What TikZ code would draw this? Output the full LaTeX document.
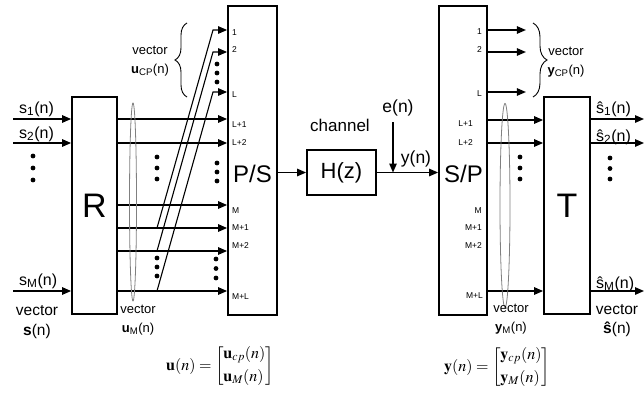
\documentclass[tikz,border=0pt]{standalone}
\usepackage{mathptmx}
\usepackage[no-math]{fontspec}
\setmainfont{Liberation Sans}
\usetikzlibrary{arrows.meta,decorations.pathreplacing}
\tikzset{
  blk/.style={draw,line width=1.8pt,inner sep=0pt},
  arr/.style={line width=1.3pt,-{Triangle[length=9pt,width=7.5pt]}},
  idx/.style={font=\fontsize{8.5}{9}\selectfont,inner sep=0pt},
  io/.style={font=\fontsize{16}{18}\selectfont,inner sep=0pt},
  vec/.style={font=\fontsize{13}{19}\selectfont,inner sep=0pt,align=center},
  lens/.style={gray,line width=0.8pt},
  brc/.style={decorate,line width=0.9pt},
  eqn/.style={font=\fontsize{16}{19}\selectfont,inner sep=0pt}
}
\newcommand\dotcol[3]{\foreach\k in{0,1,2}{\fill(#1,#2+\k*#3)circle(2.4);}}
\begin{document}
\begin{tikzpicture}[x=1pt,y=-1pt]
\useasboundingbox(0,0)rectangle(644,394);
% blocks
\node[blk,minimum width=45pt,minimum height=217pt,font=\fontsize{34}{34}\selectfont](R)at(94.5,205.5){R};
\node[blk,minimum width=49pt,minimum height=309pt](PS)at(252.5,160.5){};
\node[blk,minimum width=69pt,minimum height=45pt,font=\fontsize{22}{22}\selectfont](H)at(341.5,172.5){H(z)};
\node[blk,minimum width=48pt,minimum height=309pt](SP)at(463,160.5){};
\node[blk,minimum width=46pt,minimum height=217pt,font=\fontsize{34}{34}\selectfont](T)at(567,205.5){T};
\node[font=\fontsize{24}{24}\selectfont](PSl)at(252.5,174){P/S};
\node[font=\fontsize{24}{24}\selectfont](SPl)at(463.5,174){S/P};
% inputs and R outputs
\foreach\y/\s/\b in{119/1/113,143/2/138,291/M/285}{\coordinate(in\s)at(13,\y);\draw[arr](in\s)--(R.west|-in\s);
  \node[io,anchor=base west](s\s)at(19,\b){s\textsubscript{\s}(n)};}
\foreach\y in{119,143,205,228,251,291}{\draw[arr](R.east|-0,\y)--(PS.west|-0,\y);}
\foreach\a/\b in{228/30,251/52,291/92}{\draw[arr,line width=1.1pt](157,\a)--(213,\b)--(PS.west|-0,\b);}
\foreach\t/\y[count=\i] in{1/33,2/50,L/95,L+1/125,L+2/143,M/211,M+1/228,M+2/246,M+L/297}{\node[idx,anchor=west](pi\i)at(232,\y){\t};}
% channel
\draw[arr](PS.east|-H.west)--(H.west);
\draw[arr](H.east)--(SP.west|-H.east);
\coordinate(en)at(393,122);\draw[arr](en)--(en|-H.east);
\node[font=\fontsize{17.5}{18}\selectfont](e)at(398,108){e(n)};
\node[font=\fontsize{17.5}{18}\selectfont](y)at(416,159){y(n)};
\node[font=\fontsize{17}{18}\selectfont](ch)at(340,125){channel};
% receiver
\foreach\t/\x/\y[count=\i] in{1/482/32,2/482/50,L/482/94,L+1/473/124,L+2/473/143,M/482/211,M+1/482/228,M+2/482/246,M+L/483/296}{\node[idx,anchor=east](si\i)at(\x,\y){\t};}
\foreach\y in{30,52,92}{\draw[arr](SP.east|-0,\y)--+(38,0);}
\foreach\y in{120,143,291}{\draw[arr](SP.east|-0,\y)--(T.west|-0,\y);}
\foreach\y/\s/\b in{119/1/113,143/2/141,291/M/288}{\coordinate(out\s)at(644,\y);\draw[arr](T.east|-out\s)--(out\s);
  \node[io,anchor=base west](h\s)at(596,\b){\^{s}\textsubscript{\s}(n)};}
% dots
\dotcol{33}{156}{12}\dotcol{157}{157}{11}\dotcol{157}{258}{9}\dotcol{217}{64}{9}
\dotcol{217}{163}{9}\dotcol{216}{259}{9.5}\dotcol{520}{157}{11}\dotcol{610}{158}{10.5}
% vectors
\draw[lens](133,202)ellipse(3.5 and 99);
\draw[lens](505,205.5)ellipse(5 and 102);
\draw[brc,decoration={brace,amplitude=12pt}](187,97)--(187,23);
\draw[brc,decoration={brace,amplitude=14pt}](533,23)--(533,97);
\node[vec](ucp)at(150,61){vector\\\textbf{u}\textsubscript{CP}(n)};
\node[vec](ycp)at(566,62){vector\\\textbf{y}\textsubscript{CP}(n)};
\node[vec](uM)at(138,320){vector\\\textbf{u}\textsubscript{M}(n)};
\node[vec](yM)at(511,319){vector\\\textbf{y}\textsubscript{M}(n)};
\node[io,align=center,font=\fontsize{15.5}{20}\selectfont](sv)at(37,322){vector\\\textbf{s}(n)};
\node[io,align=center,font=\fontsize{15.5}{19}\selectfont](hv)at(617,321){vector\\\textbf{\^{s}}(n)};
% formulas
\node[eqn](uf)at(220,366){$\mathbf{u}(n)=\left[\begin{array}{@{}l@{}}\mathbf{u}_{cp}(n)\\[4pt] \mathbf{u}_{M}(n)\end{array}\right]$};
\node[eqn](yf)at(497,367){$\mathbf{y}(n)=\left[\begin{array}{@{}l@{}}\mathbf{y}_{cp}(n)\\[4pt] \mathbf{y}_{M}(n)\end{array}\right]$};
\end{tikzpicture}
\end{document}
